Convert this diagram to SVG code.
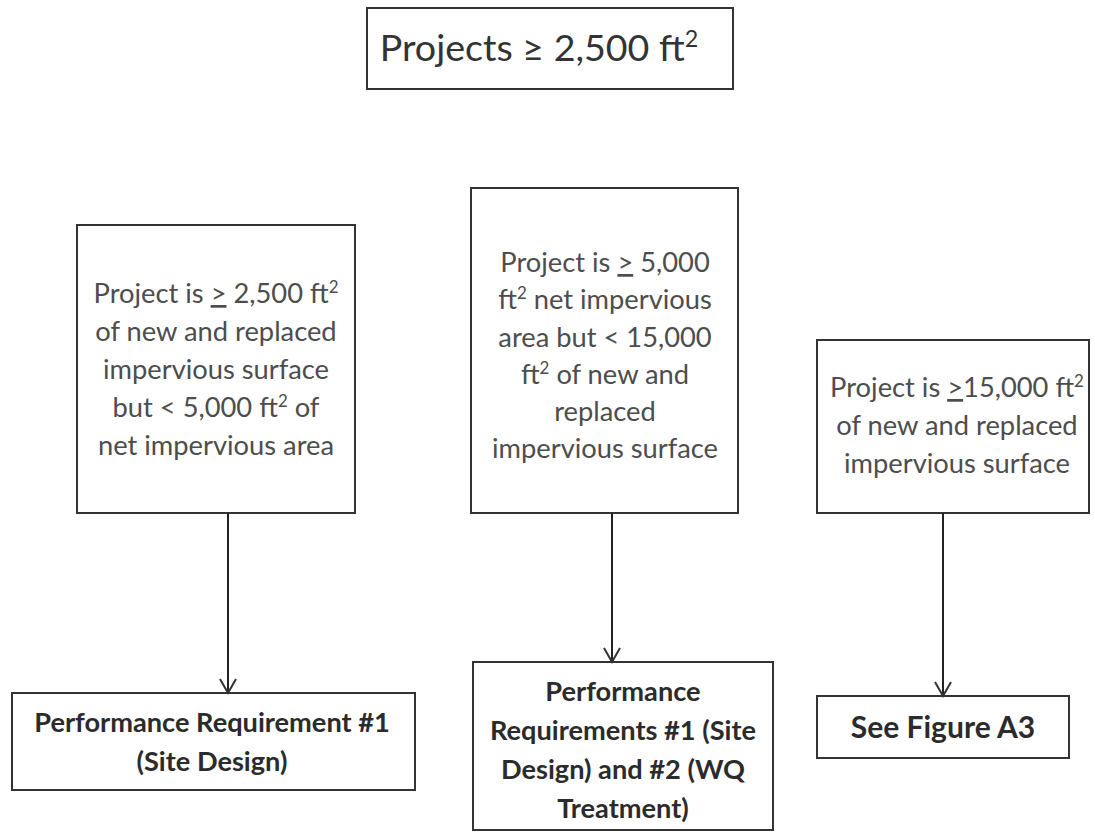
<svg xmlns="http://www.w3.org/2000/svg" width="1095" height="832" viewBox="0 0 1095 832">
  <defs>
    <style>
      .box { fill: #ffffff; stroke: #333333; stroke-width: 2; }
      .t { font-family: Lato, "Liberation Sans", sans-serif; font-size: 27.3px; fill: #4d4d4d; text-anchor: middle; }
      .b { font-family: Lato, "Liberation Sans", sans-serif; font-size: 27.2px; font-weight: bold; fill: #2b2b2b; text-anchor: middle; }
      .big { font-size: 30px; }
      .title { font-family: Lato, "Liberation Sans", sans-serif; font-size: 37.6px; fill: #333333; text-anchor: middle; }
      .sup { font-size: 62%; }
      .link { fill: none; stroke: #222222; stroke-width: 2; }
    </style>
    <!-- open V arrowhead, drawn along +x so orient="auto" follows the line -->
    <marker id="vhead" markerWidth="20" markerHeight="20" refX="16" refY="10" orient="auto" markerUnits="userSpaceOnUse" viewBox="0 0 20 20">
      <path d="M2,2 L16,10 L2,18" fill="none" stroke="#333333" stroke-width="2"/>
    </marker>
  </defs>

  <!-- Root -->
  <g id="root">
    <rect class="box" x="367" y="8" width="366" height="81"/>
    <text class="title" x="539" y="61">Projects ≥ 2,500 ft<tspan class="sup" dy="-14">2</tspan></text>
  </g>

  <!-- Size categories -->
  <g id="small">
    <rect class="box" x="77" y="225" width="278" height="288"/>
    <text class="t" x="216" y="303">Project is <tspan text-decoration="underline">&gt;</tspan> 2,500 ft<tspan class="sup" dy="-10">2</tspan></text>
    <text class="t" x="216" y="341">of new and replaced</text>
    <text class="t" x="216" y="379">impervious surface</text>
    <text class="t" x="216" y="417">but &lt; 5,000 ft<tspan class="sup" dy="-10">2</tspan><tspan dy="10"> of</tspan></text>
    <text class="t" x="216" y="455">net impervious area</text>
  </g>

  <g id="medium">
    <rect class="box" x="471" y="188" width="267" height="325"/>
    <text class="t" x="605" y="272">Project is <tspan text-decoration="underline">&gt;</tspan> 5,000</text>
    <text class="t" x="605" y="309">ft<tspan class="sup" dy="-10">2</tspan><tspan dy="10"> net impervious</tspan></text>
    <text class="t" x="605" y="347">area but &lt; 15,000</text>
    <text class="t" x="605" y="384">ft<tspan class="sup" dy="-10">2</tspan><tspan dy="10"> of new and</tspan></text>
    <text class="t" x="605" y="421">replaced</text>
    <text class="t" x="605" y="458">impervious surface</text>
  </g>

  <g id="large">
    <rect class="box" x="817" y="340" width="272" height="173"/>
    <text class="t" x="957" y="397">Project is <tspan text-decoration="underline">&gt;</tspan>15,000 ft<tspan class="sup" dy="-10">2</tspan></text>
    <text class="t" x="957" y="435">of new and replaced</text>
    <text class="t" x="957" y="473">impervious surface</text>
  </g>

  <!-- Outcomes -->
  <g id="req1">
    <rect class="box" x="12" y="693" width="403" height="97"/>
    <text class="b" x="212" y="732">Performance Requirement #1</text>
    <text class="b" x="212" y="771">(Site Design)</text>
  </g>

  <g id="req12">
    <rect class="box" x="473" y="662" width="300" height="168"/>
    <text class="b" x="623" y="701">Performance</text>
    <text class="b" x="623" y="740">Requirements #1 (Site</text>
    <text class="b" x="623" y="779">Design) and #2 (WQ</text>
    <text class="b" x="623" y="818">Treatment)</text>
  </g>

  <g id="figA3">
    <rect class="box" x="817" y="696" width="252" height="62"/>
    <text class="b big" x="943" y="738">See Figure A3</text>
  </g>

  <!-- Connectors -->
  <g id="connectors">
    <line class="link" x1="228" y1="513" x2="228" y2="693" marker-end="url(#vhead)"/>
    <line class="link" x1="612" y1="513" x2="612" y2="662" marker-end="url(#vhead)"/>
    <line class="link" x1="943" y1="513" x2="943" y2="696" marker-end="url(#vhead)"/>
  </g>
</svg>
